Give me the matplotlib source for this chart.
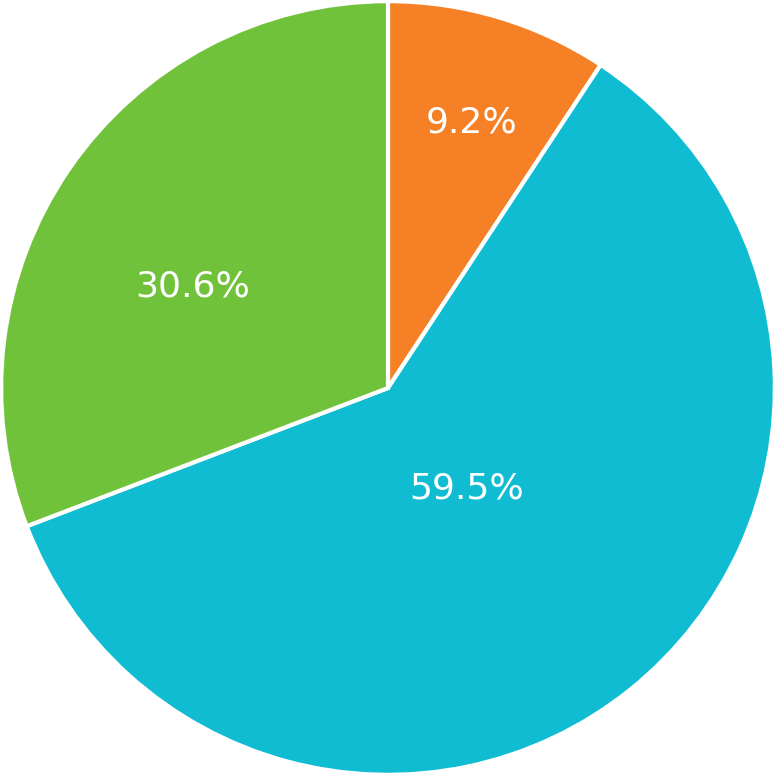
import numpy as np
import matplotlib
matplotlib.use('Agg')
import matplotlib.pyplot as plt

# --- data ---
labels = ['9.2%', '59.5%', '30.6%']
values = [9.2, 59.5, 30.6]
colors = ['#F58025', '#10BCD2', '#70C23A']

# label placement (fraction of radius, angle tweak in degrees)
label_r = [0.72, 0.33, 0.57]
label_dang = [-0.8, -1, 7]

fig = plt.figure(figsize=(7.76, 7.76), dpi=100)
ax = fig.add_axes([0, 0, 1, 1])

wedges, _ = ax.pie(values, colors=colors, startangle=90, counterclock=False,
                   radius=1.0, center=(0, 0),
                   wedgeprops=dict(edgecolor='white', linewidth=3))

for w, lab, r, da in zip(wedges, labels, label_r, label_dang):
    ang = np.deg2rad((w.theta1 + w.theta2) / 2 + da)
    ax.text(r * np.cos(ang), r * np.sin(ang), lab, color='white',
            fontsize=26, family='DejaVu Sans',
            ha='center', va='center')

ax.set_xlim(-1.003, 1.003)
ax.set_ylim(-1.003, 1.003)
ax.set_aspect('equal')
ax.axis('off')

fig.savefig('out.png', dpi=100, facecolor='white')
